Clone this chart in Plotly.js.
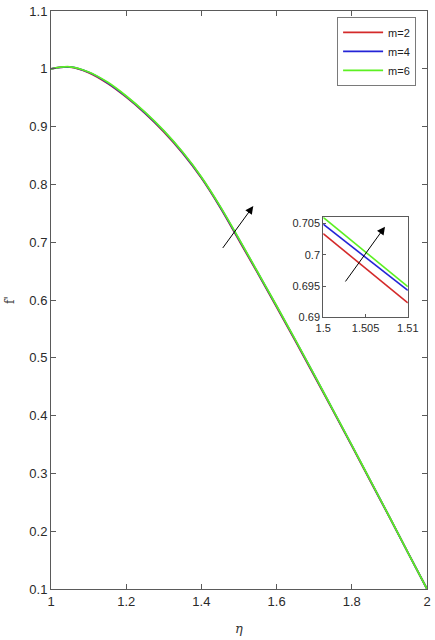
<!DOCTYPE html>
<html>
<head>
<meta charset="utf-8">
<script src="https://cdn.plot.ly/plotly-3.0.1.min.js"></script>
<style>html,body{margin:0;padding:0;background:#fff;}#chart{width:435px;height:640px;}</style>
</head>
<body>
<div id="chart"></div>
<script>
// Main curves
var eta = [1.00,1.05,1.10,1.15,1.20,1.25,1.30,1.35,1.40,1.45,1.50,1.55,1.60,1.65,1.70,1.75,1.80,1.85,1.90,1.95,2.00];
var fm2 = [1.000,1.0030,0.9935,0.9750,0.9510,0.9230,0.8910,0.8540,0.8110,0.7600,0.7032,0.6460,0.5880,0.5290,0.4690,0.4085,0.3475,0.2860,0.2245,0.1620,0.100];
var fm4 = [1.000,1.0032,0.9940,0.9760,0.9520,0.9240,0.8920,0.8550,0.8120,0.7610,0.7047,0.6472,0.5892,0.5302,0.4702,0.4095,0.3485,0.2866,0.2248,0.1620,0.100];
var fm6 = [1.000,1.0035,0.9945,0.9770,0.9530,0.9250,0.8930,0.8560,0.8130,0.7620,0.7058,0.6480,0.5900,0.5310,0.4710,0.4100,0.3490,0.2870,0.2250,0.1620,0.100];
// Inset (zoom) data
var etaZoom = [1.500,1.505,1.510];
var zm2 = [0.7034,0.6978,0.6923];
var zm4 = [0.7049,0.6996,0.6943];
var zm6 = [0.7060,0.7004,0.6949];
var seriesNames = ['m=2','m=4','m=6'];
var xTicks = [1,1.2,1.4,1.6,1.8,2];
var yTicks = [0.1,0.2,0.3,0.4,0.5,0.6,0.7,0.8,0.9,1,1.1];
var xZoomTicks = [1.5,1.505,1.51];
var yZoomTicks = [0.69,0.695,0.7,0.705];

var colors = ['#d42a2a','#2424d6','#5cf022'];
var mainY = [fm2,fm4,fm6];
var zoomY = [zm2,zm4,zm6];
var traces = [];
for (var i=0;i<3;i++){
  traces.push({x:eta,y:mainY[i],type:'scatter',mode:'lines',name:seriesNames[i],
    line:{color:colors[i],width:1.8,shape:'spline',smoothing:1},xaxis:'x',yaxis:'y'});
}
for (var j=0;j<3;j++){
  traces.push({x:etaZoom,y:zoomY[j],type:'scatter',mode:'lines',showlegend:false,
    line:{color:colors[j],width:1.6},xaxis:'x2',yaxis:'y2'});
}
var axCol = '#5a5a5a';
var tickFont = {family:'Liberation Sans, Arial, sans-serif',size:13,color:'#2a2a2a'};
var layout = {
  width:435,height:640,
  margin:{l:51,r:8,t:11,b:51},
  paper_bgcolor:'#fff',plot_bgcolor:'#fff',
  showlegend:true,
  legend:{x:0.971,y:0.99,xanchor:'right',yanchor:'top',bgcolor:'#fff',
    bordercolor:'#7a7a7a',borderwidth:1,font:{family:'Liberation Sans, Arial, sans-serif',size:11,color:'#222'},
    tracegroupgap:0,itemwidth:40},
  xaxis:{domain:[0,1],range:[1,2],tickvals:xTicks,ticktext:xTicks.map(String),ticks:'inside',ticklen:5,
    tickcolor:axCol,linecolor:axCol,linewidth:1,showline:true,mirror:'ticks',showgrid:false,zeroline:false,
    tickfont:tickFont,title:{text:'<i>η</i>',font:{family:'DejaVu Serif, serif',size:13,color:'#333'},standoff:16}},
  yaxis:{domain:[0,1],range:[0.1,1.1],tickvals:yTicks,ticktext:yTicks.map(String),ticks:'inside',ticklen:5,
    tickcolor:axCol,linecolor:axCol,linewidth:1,showline:true,mirror:'ticks',showgrid:false,zeroline:false,
    tickfont:tickFont,title:{text:"f'",font:{family:'DejaVu Serif, serif',size:12,color:'#333'},standoff:12}},
  xaxis2:{domain:[0.724,0.949],anchor:'y2',range:[1.5,1.51],tickvals:xZoomTicks,ticktext:['1.5','1.505','1.51'],
    ticks:'inside',ticklen:3,tickcolor:axCol,linecolor:axCol,linewidth:1,showline:true,mirror:true,
    showgrid:false,zeroline:false,tickfont:{family:'Liberation Sans, Arial, sans-serif',size:11,color:'#2a2a2a'}},
  yaxis2:{domain:[0.470,0.643],anchor:'x2',range:[0.69,0.706],tickvals:yZoomTicks,ticktext:['0.69','0.695','0.7','0.705'],
    ticks:'inside',ticklen:3,tickcolor:axCol,linecolor:axCol,linewidth:1,showline:true,mirror:true,
    showgrid:false,zeroline:false,tickfont:{family:'Liberation Sans, Arial, sans-serif',size:11,color:'#2a2a2a'}},
  annotations:[
    {x:1.538,y:0.7626,ax:1.454,ay:0.6875,xref:'x',yref:'y',axref:'x',ayref:'y',text:'',showarrow:true,
      arrowhead:2,arrowsize:1.6,arrowwidth:1,arrowcolor:'#000'},
    {x:1.5073,y:0.7045,ax:1.5025,ay:0.6955,xref:'x2',yref:'y2',axref:'x2',ayref:'y2',text:'',showarrow:true,
      arrowhead:2,arrowsize:1.6,arrowwidth:1,arrowcolor:'#000'}
  ]
};
Plotly.newPlot('chart',traces,layout,{displayModeBar:false,staticPlot:true});
</script>
</body>
</html>
